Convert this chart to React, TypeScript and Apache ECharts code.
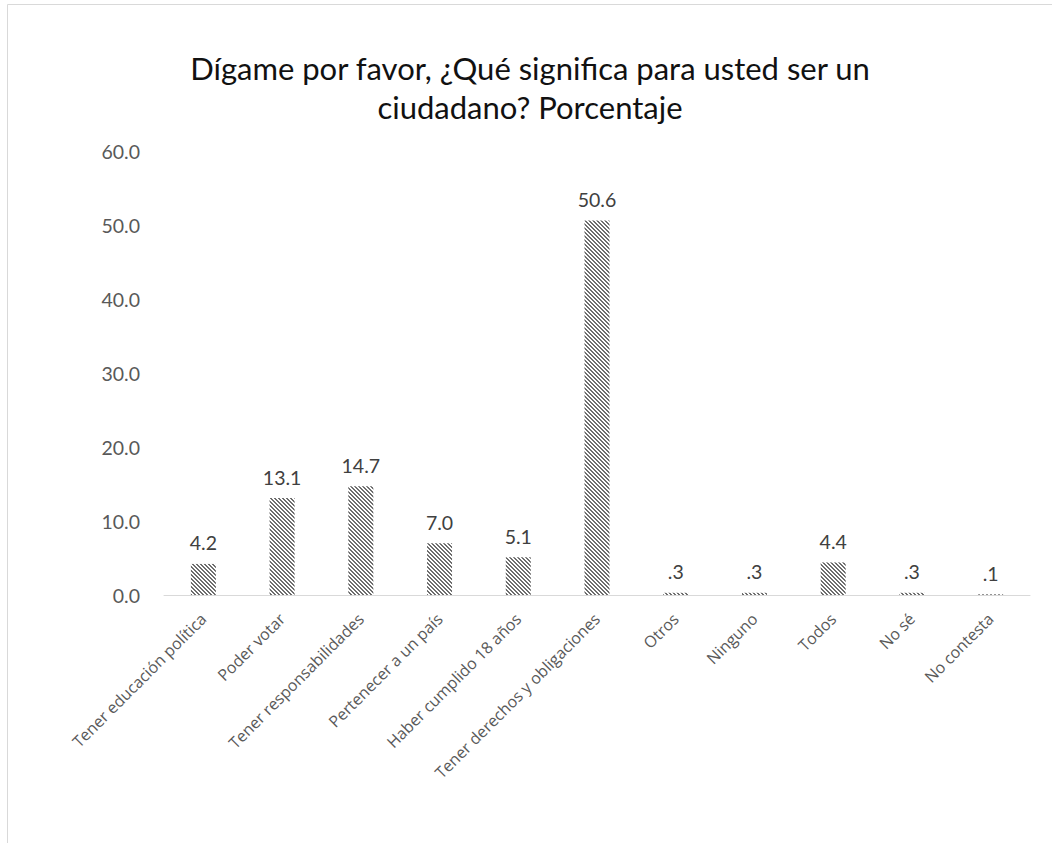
import React, { useEffect, useRef } from "react";
import * as echarts from "echarts";

const TITLE_LINES = ["Dígame por favor, ¿Qué significa para usted ser un", "ciudadano? Porcentaje"];
const CATEGORIES = [
  "Tener educación política",
  "Poder votar",
  "Tener responsabilidades",
  "Pertenecer a un país",
  "Haber cumplido 18 años",
  "Tener derechos y obligaciones",
  "Otros",
  "Ninguno",
  "Todos",
  "No sé",
  "No contesta",
];
const VALUES = [4.2, 13.1, 14.7, 7.0, 5.1, 50.6, 0.3, 0.3, 4.4, 0.3, 0.1];
const Y_MIN = 0;
const Y_MAX = 60;
const Y_STEP = 10;

function makePattern(): HTMLCanvasElement {
  const c = document.createElement("canvas");
  c.width = 4;
  c.height = 4;
  const ctx = c.getContext("2d")!;
  ctx.fillStyle = "#ffffff";
  ctx.fillRect(0, 0, 4, 4);
  ctx.fillStyle = "#6e6e6e";
  for (let y = 0; y < 4; y++) {
    for (let x = 0; x < 4; x++) {
      const d = (((x - y) % 4) + 4) % 4;
      if (d === 0 || d === 1) ctx.fillRect(x, y, 1, 1);
    }
  }
  return c;
}

function fmt(v: number): string {
  const s = v.toFixed(1);
  return v < 1 ? s.replace(/^0/, "") : s;
}

export default function App() {
  const ref = useRef<HTMLDivElement>(null);
  useEffect(() => {
    if (!ref.current) return;
    const chart = echarts.init(ref.current, undefined, { renderer: "svg" });
    const pattern = makePattern();
    chart.setOption({
      animation: false,
      backgroundColor: "#ffffff",
      title: {
        text: TITLE_LINES.join("\n"),
        left: 525,
        top: 43,
        textAlign: "center",
        textStyle: {
          fontFamily: "Lato",
          fontSize: 31,
          fontWeight: "normal",
          color: "#111111",
          lineHeight: 39,
        },
      },
      graphic: [
        {
          type: "rect",
          shape: { x: 7.5, y: 4.5, width: 2000, height: 2000 },
          style: { fill: "none", stroke: "#d9d9d9", lineWidth: 1 },
          silent: true,
        },
      ],
      grid: { left: 164, right: 22, top: 151, bottom: 248, containLabel: false },
      xAxis: {
        type: "category",
        data: CATEGORIES,
        axisLine: { lineStyle: { color: "#d9d9d9", width: 1 } },
        axisTick: { show: false },
        axisLabel: {
          interval: 0,
          rotate: 45,
          margin: 21,
          fontFamily: "Open Sans",
          fontSize: 16,
          color: "#595959",
        },
      },
      yAxis: {
        type: "value",
        min: Y_MIN,
        max: Y_MAX,
        interval: Y_STEP,
        axisLine: { show: false },
        axisTick: { show: false },
        splitLine: { show: false },
        axisLabel: {
          margin: 24,
          fontFamily: "Lato",
          fontSize: 19.5,
          color: "#595959",
          formatter: (v: number) => v.toFixed(1),
        },
      },
      series: [
        {
          type: "bar",
          data: VALUES,
          barWidth: 25,
          itemStyle: { color: { image: pattern, repeat: "repeat" } as any },
          label: {
            show: true,
            position: "top",
            distance: 11,
            fontFamily: "Lato",
            fontSize: 19.5,
            color: "#404040",
            formatter: (p: any) => fmt(p.value),
          },
        },
      ],
    });
    return () => chart.dispose();
  }, []);
  return (
    <div
      ref={ref}
      style={{ position: "fixed", left: 0, top: 0, width: 1052, height: 843 }}
    />
  );
}
